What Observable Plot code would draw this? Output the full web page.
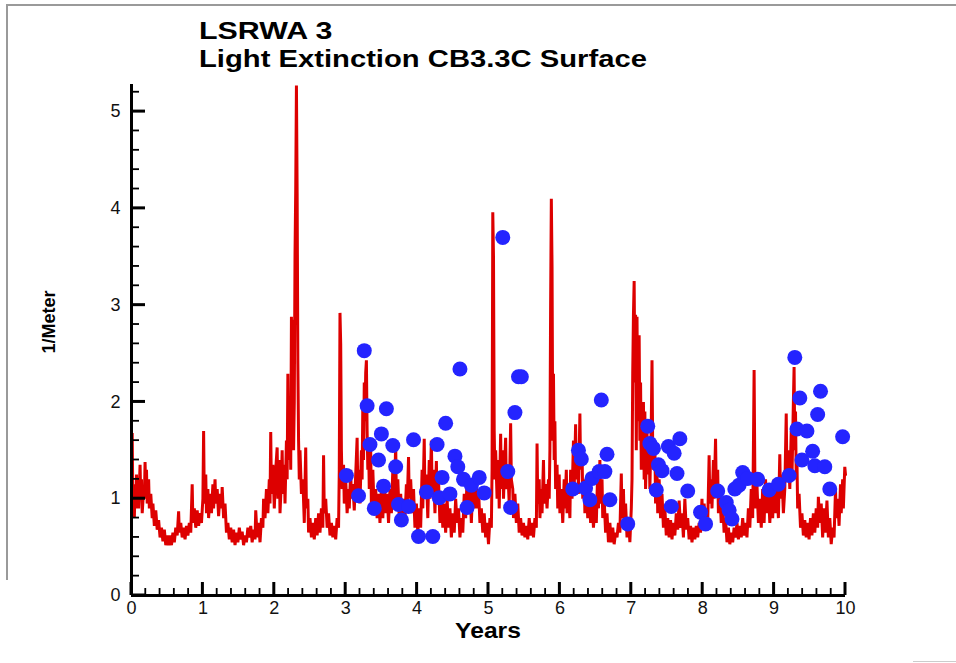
<!DOCTYPE html>
<html>
<head>
<meta charset="utf-8">
<script src="https://cdn.jsdelivr.net/npm/d3@7"></script>
<script src="https://cdn.jsdelivr.net/npm/@observablehq/plot@0.6"></script>
<style>
  html, body { margin: 0; padding: 0; background: #fff; }
  #wrap { position: relative; width: 956px; height: 663px; overflow: hidden; font-family: "Liberation Sans", Arial, sans-serif; }
  .t { position: absolute; white-space: nowrap; line-height: 1; color: #000; font-weight: bold; }
  .bl { position: absolute; background: #9a9a9a; }
</style>
</head>
<body>
<div id="wrap">
  <div class="bl" style="left:7px;top:4px;width:949px;height:2px"></div>
  <div class="bl" style="left:6px;top:4px;width:2px;height:576px"></div>
  <div class="bl" style="left:913px;top:661px;width:43px;height:1px;background:#ccc"></div>
  <div id="chart"></div>
  <div class="t" style="left:199px;top:20px;font-size:23px;transform:scaleX(1.32);transform-origin:0 0">LSRWA 3</div>
  <div class="t" style="left:199px;top:47.5px;font-size:23px;transform:scaleX(1.27);transform-origin:0 0">Light Extinction CB3.3C Surface</div>
  <div class="t" style="left:488px;top:622px;font-size:22px;line-height:0.8;transform:translateX(-50%) scaleX(1.12)">Years</div>
  <div class="t" style="left:49px;top:322px;font-size:18px;transform:translate(-50%,-50%) rotate(-90deg)">1/Meter</div>
</div>
<script>
// Modelled surface light extinction [year, 1/m]
const extinctionModel = [
[0.00,1.0],[0.01,1.68],[0.02,0.85],[0.03,1.1],[0.04,0.8],[0.05,1.15],[0.06,0.9],[0.07,1.25],[0.08,0.95],[0.09,1.2],
[0.10,0.9],[0.12,1.35],[0.13,1.0],[0.14,1.2],[0.15,0.85],[0.17,1.1],[0.18,1.0],[0.19,1.38],[0.20,1.05],[0.21,1.3],
[0.22,0.95],[0.24,1.2],[0.25,0.9],[0.27,1.05],[0.29,0.8],[0.30,0.95],[0.32,0.72],[0.34,0.88],[0.36,0.68],[0.38,0.78],
[0.40,0.6],[0.42,0.7],[0.44,0.56],[0.46,0.68],[0.48,0.52],[0.50,0.62],[0.52,0.52],[0.54,0.62],[0.56,0.52],[0.58,0.65],
[0.60,0.55],[0.62,0.7],[0.64,0.62],[0.66,0.87],[0.67,0.65],[0.69,0.75],[0.71,0.6],[0.73,0.7],[0.75,0.58],[0.77,0.72],
[0.79,0.62],[0.81,0.75],[0.83,0.65],[0.85,1.15],[0.86,0.75],[0.88,0.9],[0.90,0.7],[0.92,0.88],[0.94,0.72],[0.96,0.85],
[0.98,0.75],[1.00,1.0],[1.01,1.70],[1.02,0.95],[1.04,1.25],[1.05,0.85],[1.07,1.1],[1.08,0.8],[1.10,1.05],[1.12,0.85],
[1.14,1.15],[1.15,0.9],[1.17,1.2],[1.18,0.95],[1.20,1.1],[1.22,0.82],[1.24,1.05],[1.26,0.9],[1.27,1.12],[1.29,0.8],
[1.31,0.95],[1.33,0.65],[1.35,0.75],[1.37,0.58],[1.39,0.7],[1.41,0.55],[1.43,0.68],[1.45,0.52],[1.47,0.65],[1.49,0.55],
[1.51,0.7],[1.53,0.58],[1.55,0.66],[1.57,0.52],[1.59,0.62],[1.61,0.55],[1.63,0.7],[1.65,0.6],[1.67,0.72],[1.69,0.55],
[1.71,0.68],[1.73,0.58],[1.74,0.88],[1.76,0.6],[1.78,0.75],[1.80,0.55],[1.82,0.8],[1.84,0.7],[1.85,1.0],[1.87,0.8],
[1.89,1.1],[1.91,0.85],[1.93,1.2],[1.94,0.95],[1.95,1.69],[1.96,1.05],[1.98,1.35],[2.00,0.9],[2.02,1.3],[2.04,1.53],
[2.05,1.0],[2.07,1.4],[2.08,0.85],[2.10,1.2],[2.11,1.5],[2.12,1.05],[2.14,1.35],[2.15,0.95],[2.17,1.6],[2.18,1.2],
[2.19,2.29],[2.20,1.4],[2.22,1.8],[2.23,1.3],[2.24,2.88],[2.25,1.6],[2.26,2.85],[2.27,1.5],[2.28,2.0],[2.29,3.5],
[2.30,4.2],[2.31,5.27],[2.32,4.15],[2.33,2.4],[2.34,1.6],[2.35,1.2],[2.36,1.5],[2.38,1.05],[2.40,1.2],[2.42,0.75],
[2.44,1.53],[2.45,0.9],[2.47,1.0],[2.48,0.65],[2.50,0.8],[2.52,0.6],[2.54,0.75],[2.56,0.58],[2.58,0.8],[2.60,0.62],
[2.62,0.85],[2.64,0.65],[2.66,0.9],[2.68,0.7],[2.69,1.45],[2.70,0.85],[2.72,1.0],[2.74,0.7],[2.76,0.85],[2.78,0.62],
[2.80,0.75],[2.82,0.6],[2.84,0.72],[2.86,0.58],[2.88,0.8],[2.90,0.7],[2.91,1.3],[2.92,2.92],[2.93,2.6],[2.94,1.5],
[2.95,1.1],[2.97,1.35],[2.98,0.95],[3.00,1.2],[3.02,0.85],[3.04,1.1],[3.05,0.9],[3.07,1.3],[3.08,1.0],[3.10,1.15],
[3.12,0.88],[3.14,1.25],[3.16,1.63],[3.17,1.05],[3.19,1.3],[3.20,0.95],[3.22,1.5],[3.23,1.2],[3.24,2.0],[3.25,1.4],
[3.26,2.2],[3.27,1.8],[3.28,2.3],[3.29,2.43],[3.30,1.7],[3.31,1.3],[3.32,1.6],[3.33,1.1],[3.35,1.5],[3.36,0.95],
[3.38,1.3],[3.40,0.85],[3.42,1.1],[3.44,0.8],[3.46,1.05],[3.48,0.75],[3.50,1.1],[3.52,0.8],[3.54,1.2],[3.56,0.85],
[3.58,1.05],[3.60,0.75],[3.62,1.1],[3.64,0.85],[3.66,1.3],[3.68,0.9],[3.70,1.57],[3.71,1.0],[3.73,1.2],[3.75,0.8],
[3.77,1.05],[3.79,0.75],[3.81,1.0],[3.83,0.8],[3.85,1.15],[3.86,0.9],[3.88,1.43],[3.89,1.0],[3.91,1.2],[3.93,0.85],
[3.95,1.1],[3.97,0.7],[3.99,0.95],[4.01,0.65],[4.03,0.9],[4.05,0.7],[4.07,1.3],[4.08,0.9],[4.10,1.62],[4.11,1.0],
[4.13,1.25],[4.15,0.8],[4.17,1.4],[4.18,1.0],[4.20,1.6],[4.21,1.1],[4.23,1.3],[4.25,0.85],[4.27,1.39],[4.28,0.95],
[4.30,1.2],[4.32,0.75],[4.34,1.05],[4.36,0.7],[4.38,0.95],[4.40,0.65],[4.42,1.0],[4.44,0.7],[4.46,0.9],[4.48,0.6],
[4.50,0.85],[4.52,0.65],[4.54,1.0],[4.56,0.75],[4.58,0.9],[4.60,0.6],[4.62,0.8],[4.64,0.65],[4.66,1.05],[4.68,0.8],
[4.70,1.2],[4.72,0.85],[4.74,1.1],[4.76,0.75],[4.78,1.15],[4.80,0.9],[4.82,1.27],[4.84,0.9],[4.86,1.1],[4.88,0.75],
[4.90,0.9],[4.92,0.65],[4.94,0.85],[4.96,0.6],[4.98,0.75],[5.00,0.53],[5.02,0.8],[5.04,0.7],[5.05,1.3],[5.06,3.96],
[5.07,3.5],[5.08,1.7],[5.09,1.2],[5.10,1.5],[5.12,1.0],[5.14,1.4],[5.15,0.9],[5.17,1.67],[5.18,1.1],[5.20,1.5],
[5.21,1.0],[5.24,1.63],[5.25,1.1],[5.27,1.3],[5.29,0.95],[5.31,1.78],[5.32,1.2],[5.34,1.1],[5.35,0.8],[5.37,1.05],
[5.39,0.75],[5.41,0.95],[5.43,0.65],[5.45,0.8],[5.47,0.62],[5.49,0.75],[5.51,0.6],[5.53,0.72],[5.55,0.58],[5.57,0.8],
[5.59,0.62],[5.61,0.75],[5.63,0.6],[5.65,0.8],[5.67,0.7],[5.68,1.57],[5.69,0.95],[5.71,1.2],[5.72,0.8],[5.74,1.1],
[5.75,0.85],[5.77,1.4],[5.78,0.95],[5.80,1.15],[5.82,0.9],[5.84,1.2],[5.85,1.0],[5.86,1.5],[5.87,3.0],[5.88,4.10],
[5.89,3.4],[5.90,1.6],[5.91,2.29],[5.92,1.4],[5.93,1.8],[5.94,1.1],[5.96,1.35],[5.97,0.9],[5.99,1.25],[6.00,0.85],
[6.02,1.1],[6.04,0.75],[6.06,1.2],[6.07,0.9],[6.09,1.3],[6.10,0.85],[6.12,1.05],[6.14,0.8],[6.15,1.3],[6.17,1.0],
[6.19,1.6],[6.20,1.1],[6.22,1.77],[6.23,1.2],[6.25,1.5],[6.26,1.05],[6.28,1.88],[6.29,1.3],[6.31,1.5],[6.32,1.0],
[6.34,1.2],[6.35,0.85],[6.37,1.15],[6.39,0.8],[6.41,1.05],[6.43,0.75],[6.45,1.0],[6.47,0.7],[6.49,0.95],[6.51,0.75],
[6.53,1.3],[6.54,0.9],[6.56,1.4],[6.57,0.95],[6.59,1.2],[6.60,0.8],[6.62,1.0],[6.64,0.65],[6.66,0.85],[6.68,0.55],
[6.70,0.75],[6.72,0.55],[6.74,0.7],[6.76,0.53],[6.78,0.65],[6.80,0.6],[6.82,0.75],[6.84,0.65],[6.86,1.26],[6.87,0.8],
[6.89,1.1],[6.90,0.75],[6.92,0.95],[6.94,0.6],[6.96,0.8],[6.98,0.55],[7.00,0.9],[7.01,1.2],[7.02,2.3],[7.03,2.9],
[7.04,3.25],[7.05,2.2],[7.06,2.9],[7.07,1.5],[7.08,2.88],[7.09,1.8],[7.10,2.3],[7.11,2.69],[7.12,1.6],[7.13,2.2],
[7.14,1.3],[7.15,1.9],[7.16,1.4],[7.17,2.0],[7.18,1.2],[7.19,1.9],[7.20,1.1],[7.22,1.7],[7.23,1.25],[7.25,1.6],
[7.26,1.1],[7.28,1.8],[7.29,2.43],[7.30,1.5],[7.31,1.3],[7.33,1.55],[7.34,0.95],[7.36,1.3],[7.37,0.85],[7.39,1.2],
[7.41,0.8],[7.43,1.05],[7.45,0.7],[7.47,0.9],[7.49,0.62],[7.51,0.8],[7.53,0.6],[7.55,0.78],[7.57,0.58],[7.59,0.75],
[7.61,0.62],[7.63,0.85],[7.65,0.68],[7.67,0.98],[7.69,0.7],[7.71,0.85],[7.73,0.6],[7.75,1.0],[7.77,0.68],[7.79,0.8],
[7.81,0.58],[7.83,0.72],[7.85,0.55],[7.87,0.7],[7.89,0.58],[7.91,0.72],[7.93,0.6],[7.95,0.75],[7.97,0.65],[7.99,1.0],
[8.00,0.72],[8.02,0.95],[8.04,0.7],[8.06,0.88],[8.07,0.75],[8.09,1.45],[8.10,0.95],[8.12,1.2],[8.13,0.9],[8.15,1.4],
[8.16,1.0],[8.18,1.62],[8.19,1.1],[8.21,1.3],[8.22,0.85],[8.24,1.05],[8.26,0.75],[8.28,0.95],[8.30,0.65],[8.32,0.8],
[8.34,0.55],[8.36,0.7],[8.38,0.53],[8.40,0.65],[8.42,0.55],[8.44,0.7],[8.46,0.6],[8.48,0.75],[8.50,0.58],[8.52,0.72],
[8.54,0.6],[8.56,0.8],[8.58,0.62],[8.60,0.75],[8.62,0.6],[8.64,0.9],[8.66,0.7],[8.68,1.1],[8.70,0.8],[8.71,1.5],
[8.72,2.33],[8.73,1.3],[8.74,0.9],[8.76,1.15],[8.78,0.75],[8.80,1.0],[8.82,0.7],[8.84,1.1],[8.86,0.75],[8.88,1.2],
[8.90,0.85],[8.92,1.1],[8.94,0.75],[8.96,1.05],[8.98,0.8],[9.00,1.2],[9.02,0.85],[9.04,1.1],[9.06,0.8],[9.08,1.46],
[9.09,1.0],[9.11,1.25],[9.13,0.85],[9.15,1.1],[9.17,1.88],[9.18,1.2],[9.20,1.5],[9.22,1.1],[9.24,1.7],[9.25,1.2],
[9.27,2.0],[9.28,2.36],[9.29,1.5],[9.30,1.9],[9.31,1.2],[9.32,1.4],[9.33,0.9],[9.35,1.05],[9.37,0.7],[9.39,0.85],
[9.41,0.62],[9.43,0.78],[9.45,0.6],[9.47,0.75],[9.49,0.58],[9.51,0.8],[9.53,0.62],[9.55,0.85],[9.57,0.65],[9.59,0.9],
[9.61,0.7],[9.62,1.02],[9.64,0.75],[9.66,0.95],[9.68,0.6],[9.70,0.9],[9.72,0.65],[9.74,0.98],[9.76,0.6],[9.78,0.8],
[9.80,0.53],[9.82,0.7],[9.84,0.6],[9.86,1.1],[9.87,0.8],[9.89,1.0],[9.91,0.72],[9.93,1.15],[9.94,0.85],[9.96,1.2],
[9.97,0.9],[9.99,1.33],[10.00,1.25]
];

// Observed values [year, 1/m]
const observed = [
[3.01,1.24],[3.18,1.03],[3.26,2.53],[3.30,1.96],[3.34,1.56],[3.40,0.90],[3.46,1.40],[3.50,1.67],[3.53,1.13],[3.57,1.93],
[3.66,1.55],[3.70,1.33],[3.74,0.94],[3.78,0.78],[3.88,0.92],[3.95,1.61],[4.02,0.61],[4.13,1.07],[4.22,0.61],[4.28,1.56],
[4.31,1.01],[4.35,1.22],[4.40,1.78],[4.46,1.05],[4.53,1.44],[4.57,1.33],[4.60,2.34],[4.65,1.20],[4.70,0.91],[4.76,1.14],
[4.87,1.22],[4.94,1.06],[5.20,3.70],[5.27,1.28],[5.31,0.91],[5.37,1.89],[5.42,2.26],[5.46,2.26],
[6.18,1.10],[6.26,1.50],[6.30,1.41],[6.36,1.11],[6.42,0.99],[6.45,1.21],[6.55,1.28],[6.58,2.02],[6.63,1.28],[6.66,1.46],
[6.70,0.99],[6.95,0.74],[7.23,1.75],[7.26,1.57],[7.31,1.52],[7.35,1.09],[7.38,1.35],[7.43,1.29],[7.52,1.54],[7.60,1.47],
[7.68,1.62],[7.56,0.92],[7.64,1.26],[7.79,1.08],[7.97,0.86],[8.04,0.74],[8.21,1.08],[8.33,0.96],[8.37,0.88],[8.41,0.79],
[8.45,1.10],[8.51,1.14],[8.56,1.27],[8.63,1.21],[8.77,1.20],[8.93,1.09],[9.06,1.15],[9.21,1.24],[9.29,2.46],[9.32,1.72],
[9.36,2.04],[9.46,1.70],[9.39,1.40],[9.54,1.49],[9.57,1.34],[9.71,1.33],[9.61,1.87],[9.65,2.11],[9.78,1.10],[9.96,1.64]
];

const yMajor = [0, 1, 2, 3, 4, 5];
const yMinor = [0.2,0.4,0.6,0.8,1.2,1.4,1.6,1.8,2.2,2.4,2.6,2.8,3.2,3.4,3.6,3.8,4.2,4.4,4.6,4.8,5.2];
const xMajor = [0, 1, 2, 3, 4, 5, 6, 7, 8, 9, 10];
const xMinor = [0.2,0.4,0.6,0.8,1.2,1.4,1.6,1.8,2.2,2.4,2.6,2.8,3.2,3.4,3.6,3.8,4.2,4.4,4.6,4.8,
                5.2,5.4,5.6,5.8,6.2,6.4,6.6,6.8,7.2,7.4,7.6,7.8,8.2,8.4,8.6,8.8,9.2,9.4,9.6,9.8];
const xMax = 10, yTop = 5.28;

const W = 956, H = 663, mL = 131, mR = 111, mT = 84, mB = 68;
const frameW = W - mL - mR, frameH = H - mT - mB;
const xu = xMax / frameW, yu = yTop / frameH; // one pixel in data units

// inward tick marks as small filled rects (length × thickness in pixels)
const yTickRects = (vals, len, th) => Plot.rect(vals, { x1: 0, x2: len * xu, y1: d => d - th / 2 * yu, y2: d => d + th / 2 * yu, fill: "#000", inset: 0 });
const xTickRects = (vals, len, th) => Plot.rect(vals, { x1: d => d - th / 2 * xu, x2: d => d + th / 2 * xu, y1: 0, y2: len * yu, fill: "#000", inset: 0 });

const chart = Plot.plot({
  width: W,
  height: H,
  marginLeft: mL,
  marginRight: mR,
  marginTop: mT,
  marginBottom: mB,
  style: { fontFamily: "Liberation Sans, Arial, sans-serif", fontSize: "18px", background: "transparent", overflow: "visible" },
  x: { domain: [0, xMax] },
  y: { domain: [0, yTop] },
  marks: [
    Plot.line(extinctionModel, { x: d => d[0], y: d => d[1], stroke: "#dd0000", strokeWidth: 3, strokeLinejoin: "miter", strokeMiterlimit: 2 }),
    Plot.dot(observed, { x: d => d[0], y: d => d[1], r: 7.5, fill: "#2424ff", stroke: "none" }),
    yTickRects(yMinor, 8, 1.8),
    yTickRects(yMajor, 14, 3),
    xTickRects(xMinor, 7, 1.8),
    xTickRects(xMajor, 13, 3),
    Plot.ruleX([0], { y1: 0, y2: yTop, stroke: "#000", strokeWidth: 3 }),
    Plot.ruleY([0], { x1: 0, x2: xMax, stroke: "#000", strokeWidth: 3 }),
    Plot.axisY(yMajor, { tickSize: 0, tickPadding: 11, fontSize: 18, fill: "#111", tickFormat: d => String(d), label: null }),
    Plot.axisX(xMajor, { tickSize: 0, tickPadding: 6, fontSize: 18, fill: "#111", tickFormat: d => String(d), label: null })
  ]
});
document.getElementById("chart").appendChild(chart);
</script>
</body>
</html>
